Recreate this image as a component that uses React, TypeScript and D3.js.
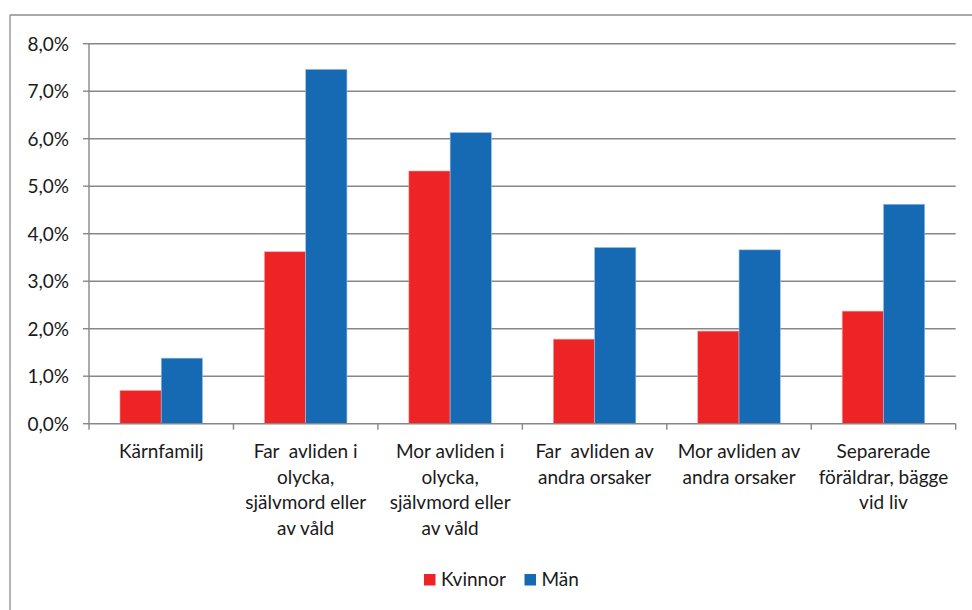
import React, { useEffect, useRef } from "react";
import * as d3 from "d3";

const categories: string[][] = [
  ["Kärnfamilj"],
  ["Far  avliden i", "olycka,", "självmord eller", "av våld"],
  ["Mor avliden i", "olycka,", "självmord eller", "av våld"],
  ["Far  avliden av", "andra orsaker"],
  ["Mor avliden av", "andra orsaker"],
  ["Separerade", "föräldrar, bägge", "vid liv"],
];
const kvinnor: number[] = [0.7, 3.62, 5.32, 1.78, 1.95, 2.37];
const man: number[] = [1.38, 7.46, 6.13, 3.71, 3.66, 4.62];
const seriesNames: string[] = ["Kvinnor", "Män"];
const seriesColors: string[] = ["#EE2325", "#166AB3"];
const yTicks: number[] = [0, 1, 2, 3, 4, 5, 6, 7, 8];

const W = 972;
const H = 610;
const FONT = "Lato, 'Open Sans', sans-serif";
const FS = 19;

export default function App() {
  const ref = useRef<SVGSVGElement | null>(null);

  useEffect(() => {
    const svg = d3.select(ref.current);
    svg.selectAll("*").remove();

    const left = 89, right = 955.7, top = 43.7, bottom = 423.7;
    const keys = categories.map((_, i) => String(i));
    const x = d3.scaleBand<string>().domain(keys).range([left, right])
      .paddingInner(0.4286).paddingOuter(0.2143);
    const xs = d3.scaleBand<string>().domain(seriesNames).range([0, x.bandwidth()]);
    const y = d3.scaleLinear().domain([0, 8]).range([bottom, top]);

    // outer chart border (top & left visible)
    svg.append("line").attr("x1", 10).attr("x2", W).attr("y1", 15).attr("y2", 15)
      .attr("stroke", "#8C8C8C").attr("stroke-width", 1.3);
    svg.append("line").attr("x1", 10).attr("x2", 10).attr("y1", 15).attr("y2", H)
      .attr("stroke", "#8C8C8C").attr("stroke-width", 1.3);

    // gridlines
    svg.append("g").selectAll("line").data(yTicks.filter(t => t > 0)).join("line")
      .attr("x1", left).attr("x2", right)
      .attr("y1", d => y(d)).attr("y2", d => y(d))
      .attr("stroke", "#878787").attr("stroke-width", 1.4);

    // y tick marks
    svg.append("g").selectAll("line").data(yTicks).join("line")
      .attr("x1", left - 6).attr("x2", left)
      .attr("y1", d => y(d)).attr("y2", d => y(d))
      .attr("stroke", "#878787").attr("stroke-width", 1.4);

    // y labels
    svg.append("g").selectAll("text").data(yTicks).join("text")
      .attr("x", 69).attr("y", d => y(d) + 7)
      .attr("text-anchor", "end")
      .attr("font-family", FONT).attr("font-size", FS).attr("fill", "#1a1a1a")
      .text(d => d.toFixed(1).replace(".", ",") + "%");

    // bars
    const data = [kvinnor, man];
    data.forEach((vals, si) => {
      svg.append("g").selectAll("rect").data(vals).join("rect")
        .attr("x", (_, i) => (x(String(i)) as number) + (xs(seriesNames[si]) as number))
        .attr("width", xs.bandwidth())
        .attr("y", d => y(d))
        .attr("height", d => bottom - y(d))
        .attr("fill", seriesColors[si])
        .attr("stroke", si === 0 ? "#F5A3A3" : "#9DC0E3")
        .attr("stroke-width", 0.6);
    });

    // axes lines
    svg.append("line").attr("x1", left).attr("x2", left).attr("y1", top).attr("y2", bottom)
      .attr("stroke", "#878787").attr("stroke-width", 1.4);
    svg.append("line").attr("x1", left).attr("x2", right).attr("y1", bottom).attr("y2", bottom)
      .attr("stroke", "#878787").attr("stroke-width", 1.4);

    // category tick marks
    const step = x.step();
    const bounds = d3.range(categories.length + 1).map(i => left + i * step);
    svg.append("g").selectAll("line").data(bounds).join("line")
      .attr("x1", d => d).attr("x2", d => d)
      .attr("y1", bottom).attr("y2", bottom + 6)
      .attr("stroke", "#878787").attr("stroke-width", 1.4);

    // category labels
    const cl = svg.append("g");
    categories.forEach((lines, i) => {
      const cx = (x(String(i)) as number) + x.bandwidth() / 2;
      const t = cl.append("text")
        .attr("text-anchor", "middle")
        .attr("font-family", FONT).attr("font-size", FS).attr("fill", "#1a1a1a")
        .attr("xml:space", "preserve")
        .style("white-space", "pre");
      lines.forEach((ln, j) => {
        t.append("tspan").attr("x", cx).attr("y", 458 + j * 25.7).text(ln);
      });
    });

    // legend
    const lg = svg.append("g");
    const legendItems = [
      { name: seriesNames[0], color: seriesColors[0], sx: 424 },
      { name: seriesNames[1], color: seriesColors[1], sx: 524.5 },
    ];
    legendItems.forEach(it => {
      lg.append("rect").attr("x", it.sx).attr("y", 574).attr("width", 11.5).attr("height", 11.5)
        .attr("fill", it.color);
      lg.append("text").attr("x", it.sx + 17).attr("y", 585.5)
        .attr("font-family", FONT).attr("font-size", FS).attr("fill", "#1a1a1a")
        .text(it.name);
    });
  }, []);

  return (
    <svg
      ref={ref}
      width={W}
      height={H}
      style={{ position: "absolute", left: 0, top: 0, background: "#fff" }}
    />
  );
}
